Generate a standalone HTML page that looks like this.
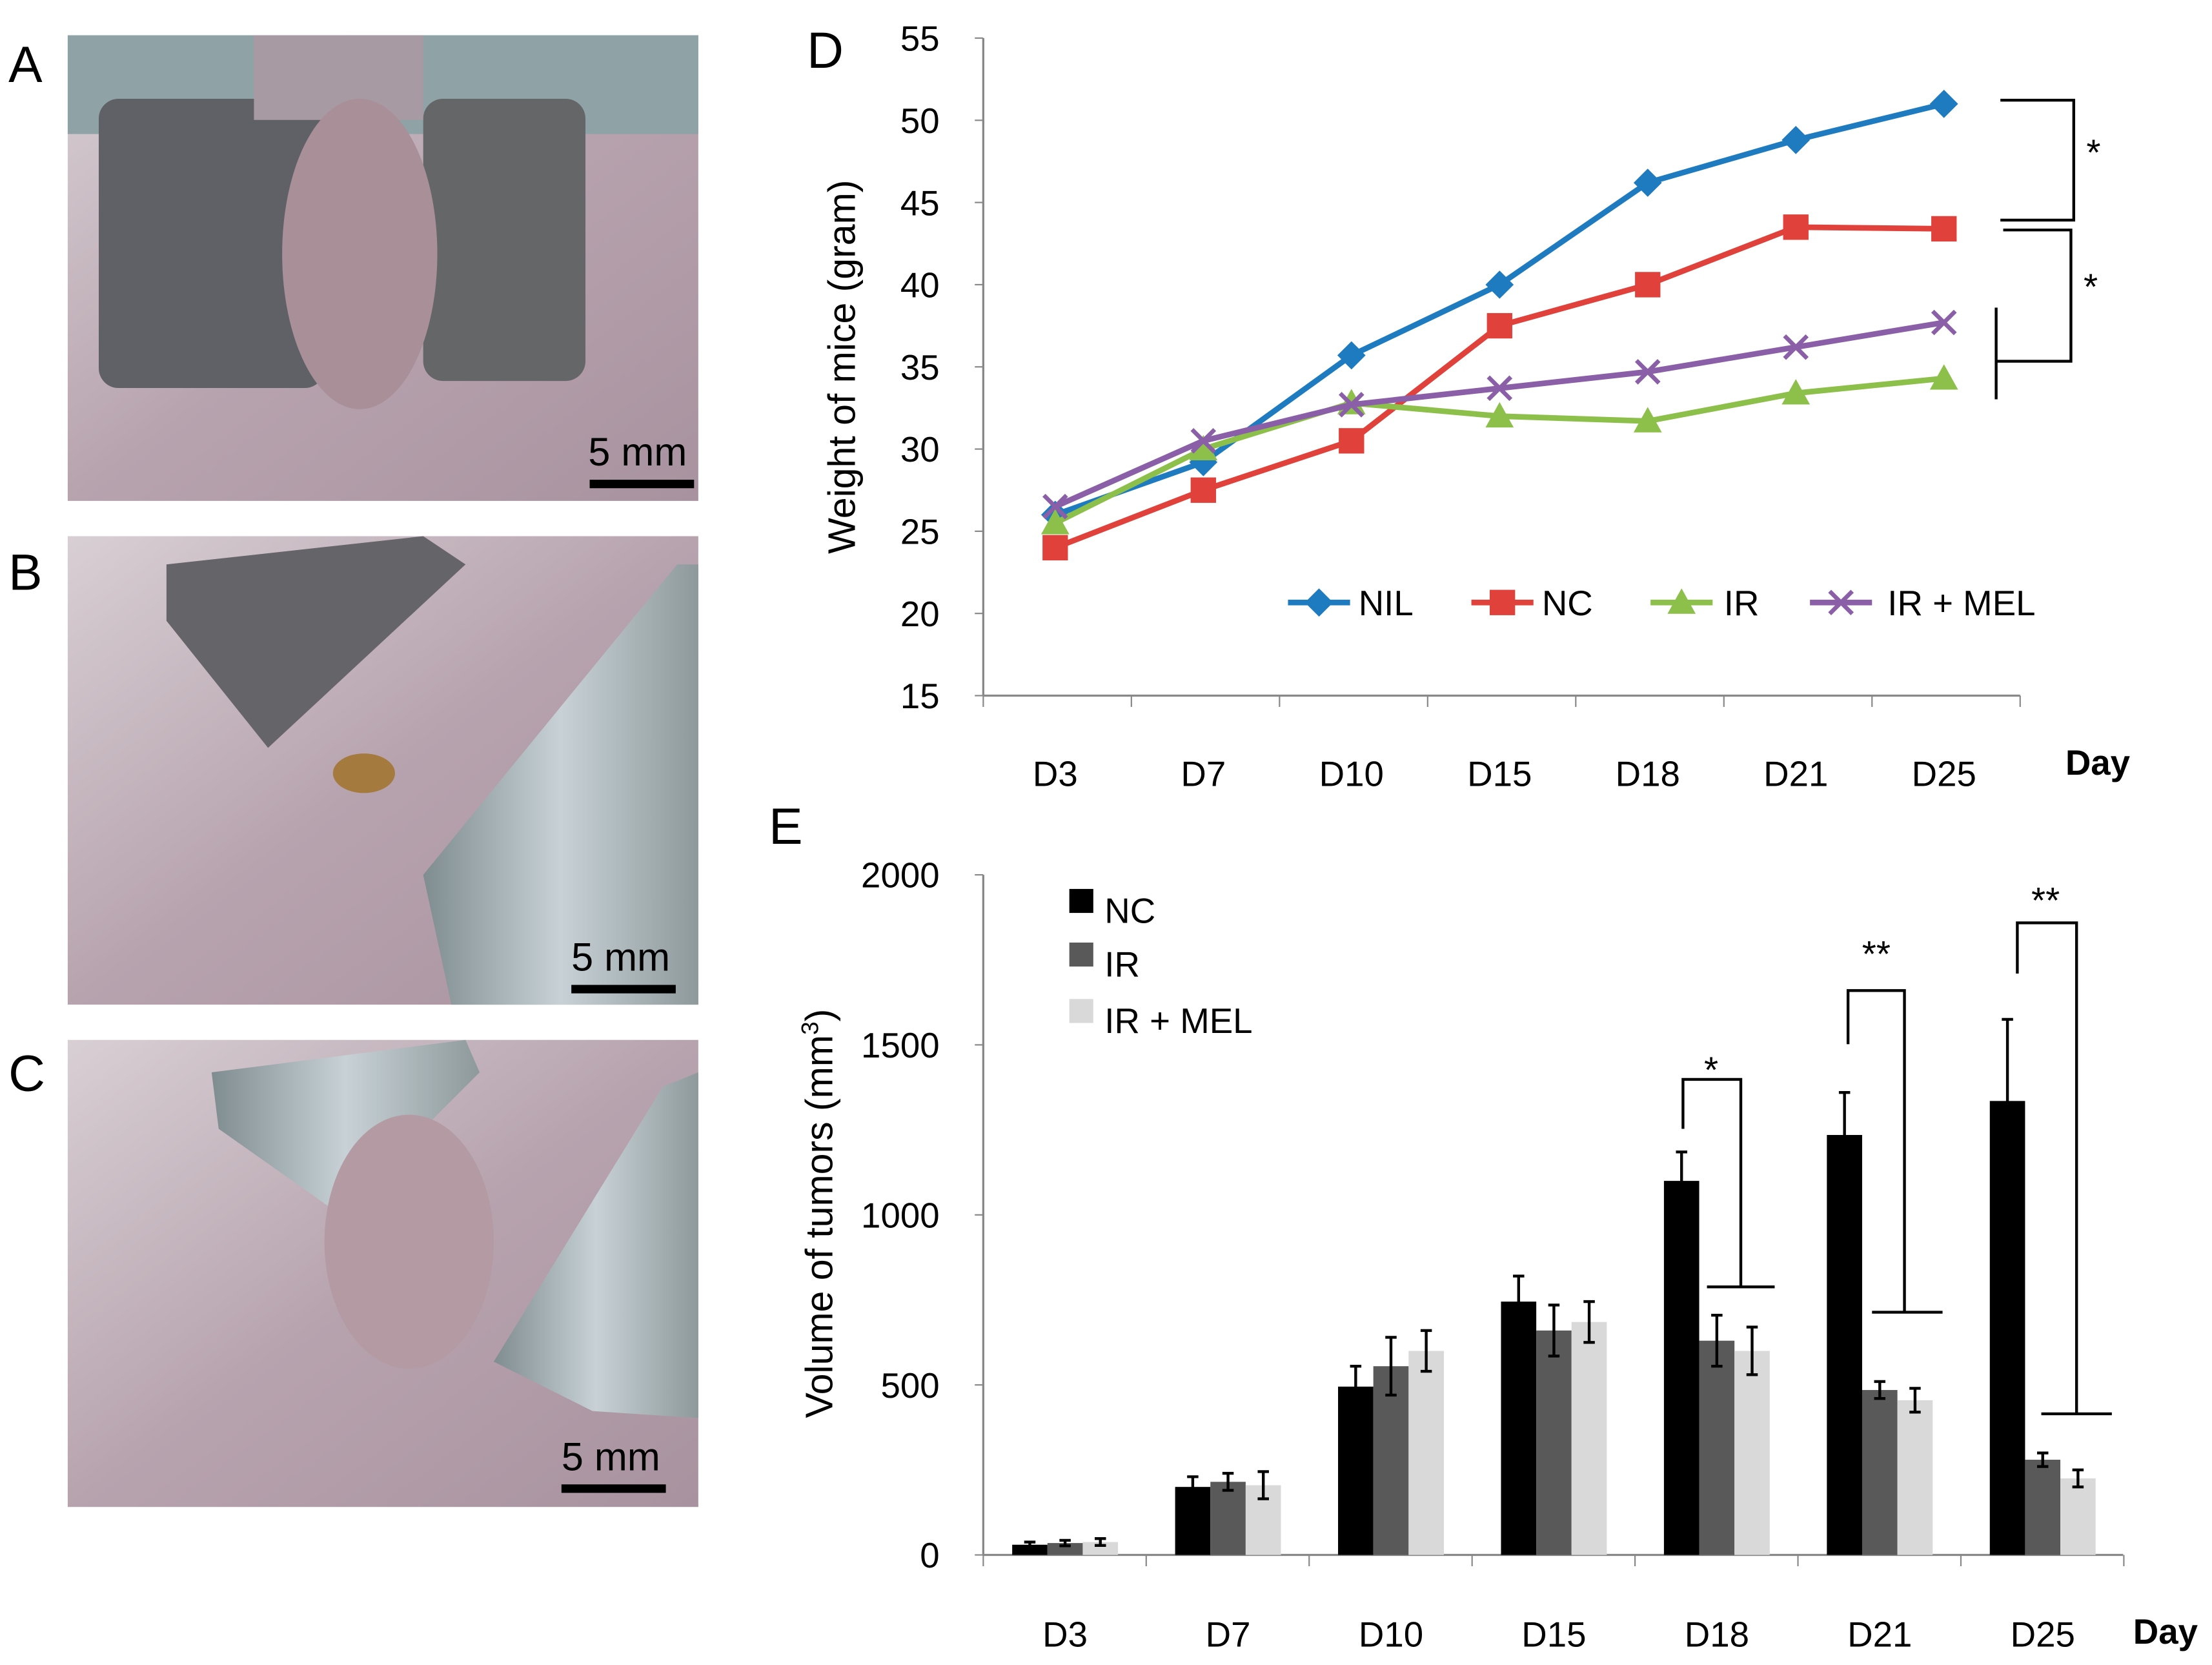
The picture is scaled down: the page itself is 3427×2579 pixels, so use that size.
<!DOCTYPE html>
<html><head><meta charset="utf-8"><style>
html,body{margin:0;padding:0;background:#fff;}
svg{display:block;font-family:"Liberation Sans",Arial,sans-serif;}
</style></head><body>
<svg id="fig" width="3427" height="2579" viewBox="0 0 1568 1180" preserveAspectRatio="none">
<defs>
<linearGradient id="fur" x1="0" y1="0" x2="1" y2="1"><stop offset="0" stop-color="#d8cfd4"/><stop offset="0.5" stop-color="#b7a3ae"/><stop offset="1" stop-color="#a8929f"/></linearGradient>
<linearGradient id="metal" x1="0" y1="0" x2="1" y2="0"><stop offset="0" stop-color="#7f8c90"/><stop offset="0.5" stop-color="#c8d2d6"/><stop offset="1" stop-color="#8e999c"/></linearGradient>
</defs>
<g>
<rect x="48" y="25" width="447" height="330" fill="url(#fur)"/>
<rect x="48" y="25" width="447" height="70" fill="#8fa3a6"/>
<rect x="70" y="70" width="160" height="205" rx="14" fill="#5f6166"/>
<rect x="300" y="70" width="115" height="200" rx="14" fill="#646668"/>
<rect x="180" y="25" width="120" height="60" fill="#a89aa2"/>
<ellipse cx="255" cy="180" rx="55" ry="110" fill="#a88f98"/>
<text x="417" y="330" font-size="28" fill="#000">5 mm</text>
<rect x="418" y="340" width="74" height="6" fill="#000"/>
</g>
<g>
<rect x="48" y="380" width="447" height="332" fill="url(#fur)"/>
<polygon points="118,400 300,380 330,400 190,530 118,440" fill="#656468"/>
<polygon points="300,620 480,400 495,400 495,712 320,712" fill="url(#metal)"/>
<ellipse cx="258" cy="548" rx="22" ry="14" fill="#a57a3e"/>
<text x="405" y="688" font-size="28" fill="#000">5 mm</text>
<rect x="405" y="698" width="74" height="6" fill="#000"/>
</g>
<g>
<rect x="48" y="737" width="447" height="331" fill="url(#fur)"/>
<polygon points="150,760 330,737 340,760 240,860 155,800" fill="url(#metal)"/>
<polygon points="350,965 470,770 495,760 495,1005 420,1000" fill="url(#metal)"/>
<ellipse cx="290" cy="880" rx="60" ry="90" fill="#b49aa2"/>
<text x="398" y="1042" font-size="28" fill="#000">5 mm</text>
<rect x="398" y="1052" width="74" height="6" fill="#000"/>
</g>
<text x="6" y="58" font-size="36">A</text>
<text x="6" y="418" font-size="36">B</text>
<text x="6" y="773" font-size="36">C</text>
<text x="572" y="48" font-size="36">D</text>
<text x="545" y="598" font-size="36">E</text>
<g id="chartD"></g>
<g id="chartE"></g>
</svg>
<script>
const NS="http://www.w3.org/2000/svg";
function mk(p,t,a,txt){const e=document.createElementNS(NS,t);for(const k in a)e.setAttribute(k,a[k]);if(txt!==undefined)e.textContent=txt;p.appendChild(e);return e;}

const dayLabels=["D3","D7","D10","D15","D18","D21","D25"];
const weightTicks=[15,20,25,30,35,40,45,50,55];
const nilW=[26,29.2,35.7,40,46.2,48.8,51];
const ncW=[24,27.5,30.5,37.5,40,43.5,43.4];
const irW=[25.5,30,32.8,32,31.7,33.4,34.3];
const melW=[26.5,30.5,32.7,33.7,34.7,36.2,37.7];
const volTicks=[0,500,1000,1500,2000];
const ncV=[30,200,495,745,1100,1235,1335];
const irV=[35,215,555,660,630,485,280];
const melV=[38,205,600,685,600,455,225];
const ncE=[8,30,60,75,85,125,240];
const irE=[8,25,85,75,75,25,20];
const melE=[10,40,60,60,70,35,25];

const D=document.getElementById('chartD');
const dx=i=>748+i*105, dy=v=>493-(v-15)*(466/40);
let e;
e=mk(D,'line',{x1:697,y1:27,x2:697,y2:493,stroke:'#888','stroke-width':1.5});

e=mk(D,'line',{x1:697,y1:493,x2:1432,y2:493,stroke:'#888','stroke-width':1.5});

weightTicks.forEach(t=>{
 mk(D,'line',{x1:691,y1:dy(t),x2:697,y2:dy(t),stroke:'#888'});
 e=mk(D,'text',{x:666,y:dy(t)+9,'font-size':25,'text-anchor':'end'},t);
 
});
for(let i=0;i<=7;i++)mk(D,'line',{x1:697+i*105,y1:493,x2:697+i*105,y2:501,stroke:'#888'});
dayLabels.forEach((d,i)=>{e=mk(D,'text',{x:dx(i),y:557,'font-size':25,'text-anchor':'middle'},d);
 });
e=mk(D,'text',{x:1487,y:549,'font-size':25,'font-weight':'bold','text-anchor':'middle'},'Day');

e=mk(D,'text',{x:0,y:0,'font-size':27,'text-anchor':'middle',transform:'translate(606,260) rotate(-90)'},'Weight of mice (gram)');

function marker(g,type,x,y,c){
 if(type==='d')return mk(g,'polygon',{points:`${x},${y-10} ${x+10},${y} ${x},${y+10} ${x-10},${y}`,fill:c});
 if(type==='s')return mk(g,'rect',{x:x-9,y:y-9,width:18,height:18,fill:c});
 if(type==='t')return mk(g,'polygon',{points:`${x},${y-10} ${x+10},${y+8} ${x-10},${y+8}`,fill:c});
 const gg=mk(g,'g',{});mk(gg,'line',{x1:x-8,y1:y-8,x2:x+8,y2:y+8,stroke:c,'stroke-width':3});mk(gg,'line',{x1:x-8,y1:y+8,x2:x+8,y2:y-8,stroke:c,'stroke-width':3});return gg;
}
const series=[[nilW,'#1f7bc0','d','nil'],[ncW,'#e0413b','s','nc'],[irW,'#8dc04a','t','ir'],[melW,'#8a5fa8','x','ir-mel']];
series.forEach(([vals,c,m,n])=>{
 e=mk(D,'polyline',{points:vals.map((v,i)=>dx(i)+','+dy(v)).join(' '),fill:'none',stroke:c,'stroke-width':4});
 
 vals.forEach((v,i)=>{e=marker(D,m,dx(i),dy(v),c);});
});
const leg=[['NIL',935,963],['NC',1065,1093],['IR',1192,1222],['IR + MEL',1305,1338]];
leg.forEach((l,i)=>{const [c,m]=[series[i][1],series[i][2]];
 mk(D,'line',{x1:l[1]-22,y1:427,x2:l[1]+22,y2:427,stroke:c,'stroke-width':4});
 marker(D,m,l[1],427,c);
 e=mk(D,'text',{x:l[2],y:436,'font-size':25},l[0]);});
const br='stroke:#000;stroke-width:2;fill:none';
mk(D,'polyline',{points:'1418,71 1470,71 1470,156 1418,156',style:br});
mk(D,'polyline',{points:'1420,163 1468,163 1468,256 1415,256',style:br});
mk(D,'line',{x1:1415,y1:218,x2:1415,y2:283,style:br});
mk(D,'text',{x:1484,y:117,'font-size':26,'text-anchor':'middle'},'*');
mk(D,'text',{x:1482,y:212,'font-size':26,'text-anchor':'middle'},'*');

const E=document.getElementById('chartE');
const ex=i=>755+i*115.5, ey=v=>1102-v*(482/2000);
e=mk(E,'line',{x1:697,y1:620,x2:697,y2:1102,stroke:'#888','stroke-width':1.5});

e=mk(E,'line',{x1:697,y1:1102,x2:1505,y2:1102,stroke:'#888','stroke-width':1.5});

volTicks.forEach(t=>{mk(E,'line',{x1:691,y1:ey(t),x2:697,y2:ey(t),stroke:'#888'});
 e=mk(E,'text',{x:666,y:ey(t)+9,'font-size':25,'text-anchor':'end'},t);
 });
for(let i=0;i<=7;i++)mk(E,'line',{x1:697+i*115.5,y1:1102,x2:697+i*115.5,y2:1110,stroke:'#888'});
dayLabels.forEach((d,i)=>{e=mk(E,'text',{x:ex(i),y:1167,'font-size':25,'text-anchor':'middle'},d);
 });
e=mk(E,'text',{x:1535,y:1165,'font-size':25,'font-weight':'bold','text-anchor':'middle'},'Day');

e=mk(E,'text',{x:0,y:0,'font-size':27,'text-anchor':'middle',transform:'translate(590,860) rotate(-90)'});

e.appendChild(document.createTextNode('Volume of tumors (mm'));
mk(e,'tspan',{'font-size':17,dy:-10},'3');mk(e,'tspan',{dy:10},')');
const bs=[[ncV,ncE,'#000',-25,'nc'],[irV,irE,'#595959',0,'ir'],[melV,melE,'#d9d9d9',25,'ir-mel']];
bs.forEach(([v,er,c,off,n])=>{v.forEach((val,i)=>{
 const cx=ex(i)+off;
 e=mk(E,'rect',{x:cx-12.5,y:ey(val),width:25,height:1102-ey(val),fill:c});
 
 const y1=ey(val+er[i]),y2=ey(val-er[i]);
 mk(E,'path',{d:`M${cx},${y1}V${y2}M${cx-4},${y1}H${cx+4}M${cx-4},${y2}H${cx+4}`,stroke:'#000','stroke-width':2,fill:'none'});
});});
[['NC',645,'#000'],['IR',683,'#595959'],['IR + MEL',723,'#d9d9d9']].forEach(l=>{
 mk(E,'rect',{x:758,y:l[1]-15,width:17,height:17,fill:l[2]});
 e=mk(E,'text',{x:783,y:l[1]+9,'font-size':25},l[0]);});
mk(E,'polyline',{points:'1193,800 1193,765 1234,765 1234,912',style:br});
mk(E,'line',{x1:1210,y1:912,x2:1258,y2:912,style:br});
mk(E,'text',{x:1213,y:767,'font-size':26,'text-anchor':'middle'},'*');
mk(E,'polyline',{points:'1310,740 1310,702 1350,702 1350,930',style:br});
mk(E,'line',{x1:1327,y1:930,x2:1377,y2:930,style:br});
mk(E,'text',{x:1330,y:685,'font-size':26,'text-anchor':'middle'},'**');
mk(E,'polyline',{points:'1430,690 1430,654 1472,654 1472,1002',style:br});
mk(E,'line',{x1:1447,y1:1002,x2:1497,y2:1002,style:br});
mk(E,'text',{x:1450,y:647,'font-size':26,'text-anchor':'middle'},'**');
</script>
</body></html>
